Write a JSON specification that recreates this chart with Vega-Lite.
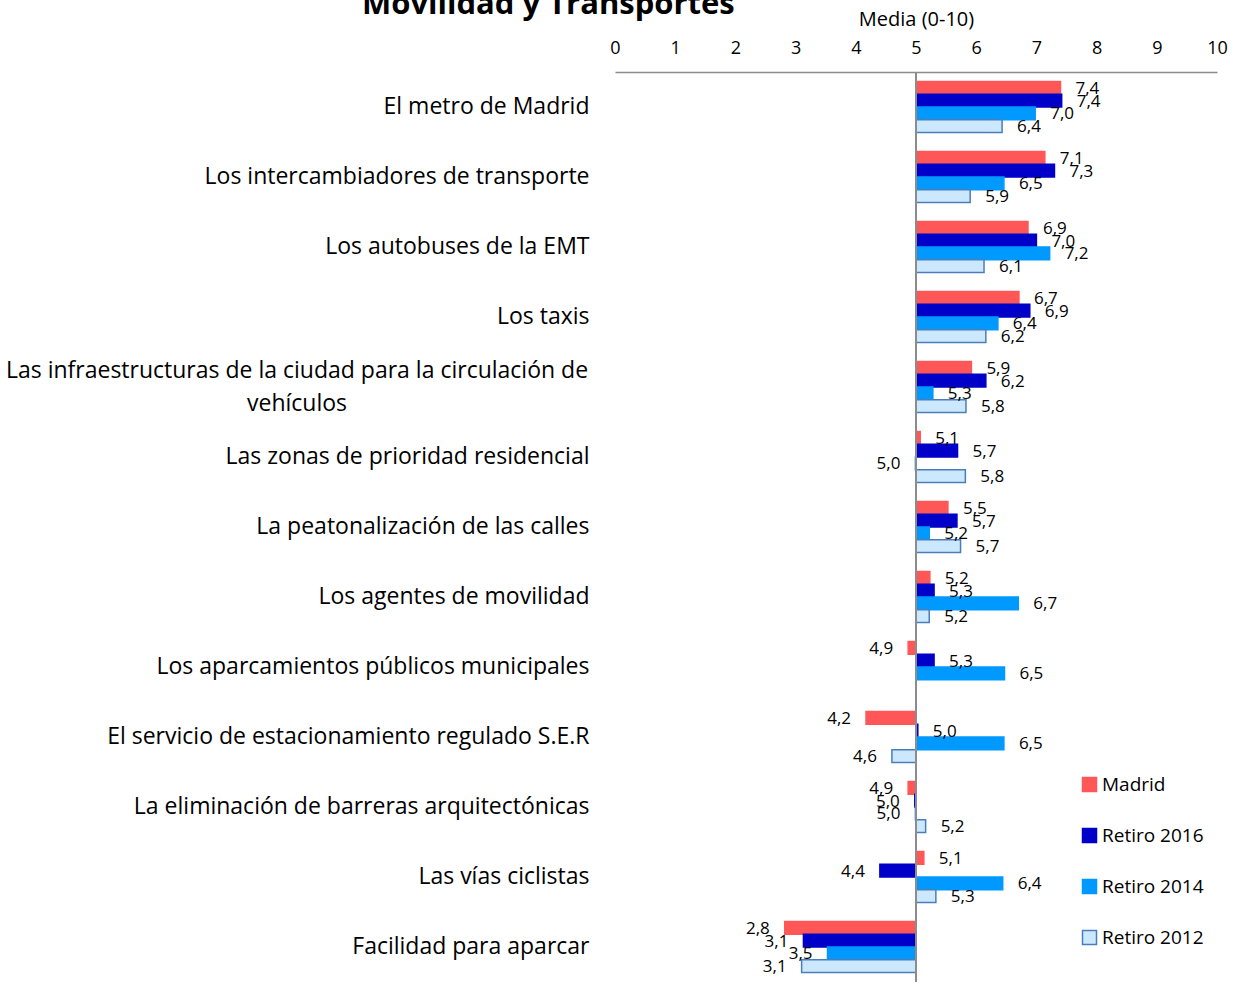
{
  "$schema": "https://vega.github.io/schema/vega-lite/v6.json",
  "autosize": {"type": "none"},
  "padding": {"left": 615, "top": 72, "right": 26, "bottom": 5},
  "width": 602,
  "height": 910,
  "background": "white",
  "config": {
    "view": {"stroke": null},
    "font": "Open Sans",
    "locale": {"number": {"decimal": ",", "thousands": ".", "grouping": [3], "currency": ["", " €"]}}
  },
  "title": {
    "text": "Movilidad y Transportes",
    "fontSize": 31,
    "fontWeight": "bold",
    "font": "Open Sans",
    "anchor": "start",
    "frame": "group",
    "dx": -253,
    "dy": 16,
    "color": "#000000"
  },
  "data": {
    "values": [
      {"cat": "El metro de Madrid", "series": "Madrid", "value": 7.4},
      {"cat": "El metro de Madrid", "series": "Retiro 2016", "value": 7.42},
      {"cat": "El metro de Madrid", "series": "Retiro 2014", "value": 6.98},
      {"cat": "El metro de Madrid", "series": "Retiro 2012", "value": 6.43},
      {"cat": "Los intercambiadores de transporte", "series": "Madrid", "value": 7.14},
      {"cat": "Los intercambiadores de transporte", "series": "Retiro 2016", "value": 7.3},
      {"cat": "Los intercambiadores de transporte", "series": "Retiro 2014", "value": 6.46},
      {"cat": "Los intercambiadores de transporte", "series": "Retiro 2012", "value": 5.9},
      {"cat": "Los autobuses de la EMT", "series": "Madrid", "value": 6.86},
      {"cat": "Los autobuses de la EMT", "series": "Retiro 2016", "value": 7.0},
      {"cat": "Los autobuses de la EMT", "series": "Retiro 2014", "value": 7.22},
      {"cat": "Los autobuses de la EMT", "series": "Retiro 2012", "value": 6.13},
      {"cat": "Los taxis", "series": "Madrid", "value": 6.71},
      {"cat": "Los taxis", "series": "Retiro 2016", "value": 6.89},
      {"cat": "Los taxis", "series": "Retiro 2014", "value": 6.36},
      {"cat": "Los taxis", "series": "Retiro 2012", "value": 6.16},
      {"cat": "Las infraestructuras de la ciudad para la circulación de vehículos", "series": "Madrid", "value": 5.92},
      {"cat": "Las infraestructuras de la ciudad para la circulación de vehículos", "series": "Retiro 2016", "value": 6.16},
      {"cat": "Las infraestructuras de la ciudad para la circulación de vehículos", "series": "Retiro 2014", "value": 5.28},
      {"cat": "Las infraestructuras de la ciudad para la circulación de vehículos", "series": "Retiro 2012", "value": 5.83},
      {"cat": "Las zonas de prioridad residencial", "series": "Madrid", "value": 5.07},
      {"cat": "Las zonas de prioridad residencial", "series": "Retiro 2016", "value": 5.69},
      {"cat": "Las zonas de prioridad residencial", "series": "Retiro 2014", "value": 4.99},
      {"cat": "Las zonas de prioridad residencial", "series": "Retiro 2012", "value": 5.82},
      {"cat": "La peatonalización de las calles", "series": "Madrid", "value": 5.53},
      {"cat": "La peatonalización de las calles", "series": "Retiro 2016", "value": 5.68},
      {"cat": "La peatonalización de las calles", "series": "Retiro 2014", "value": 5.22},
      {"cat": "La peatonalización de las calles", "series": "Retiro 2012", "value": 5.74},
      {"cat": "Los agentes de movilidad", "series": "Madrid", "value": 5.23},
      {"cat": "Los agentes de movilidad", "series": "Retiro 2016", "value": 5.3},
      {"cat": "Los agentes de movilidad", "series": "Retiro 2014", "value": 6.7},
      {"cat": "Los agentes de movilidad", "series": "Retiro 2012", "value": 5.22},
      {"cat": "Los aparcamientos públicos municipales", "series": "Madrid", "value": 4.87},
      {"cat": "Los aparcamientos públicos municipales", "series": "Retiro 2016", "value": 5.3},
      {"cat": "Los aparcamientos públicos municipales", "series": "Retiro 2014", "value": 6.47},
      {"cat": "El servicio de estacionamiento regulado S.E.R", "series": "Madrid", "value": 4.17},
      {"cat": "El servicio de estacionamiento regulado S.E.R", "series": "Retiro 2016", "value": 5.03},
      {"cat": "El servicio de estacionamiento regulado S.E.R", "series": "Retiro 2014", "value": 6.46},
      {"cat": "El servicio de estacionamiento regulado S.E.R", "series": "Retiro 2012", "value": 4.6},
      {"cat": "La eliminación de barreras arquitectónicas", "series": "Madrid", "value": 4.87},
      {"cat": "La eliminación de barreras arquitectónicas", "series": "Retiro 2016", "value": 4.98},
      {"cat": "La eliminación de barreras arquitectónicas", "series": "Retiro 2014", "value": 4.99},
      {"cat": "La eliminación de barreras arquitectónicas", "series": "Retiro 2012", "value": 5.16},
      {"cat": "Las vías ciclistas", "series": "Madrid", "value": 5.13},
      {"cat": "Las vías ciclistas", "series": "Retiro 2016", "value": 4.4},
      {"cat": "Las vías ciclistas", "series": "Retiro 2014", "value": 6.44},
      {"cat": "Las vías ciclistas", "series": "Retiro 2012", "value": 5.33},
      {"cat": "Facilidad para aparcar", "series": "Madrid", "value": 2.82},
      {"cat": "Facilidad para aparcar", "series": "Retiro 2016", "value": 3.13},
      {"cat": "Facilidad para aparcar", "series": "Retiro 2014", "value": 3.53},
      {"cat": "Facilidad para aparcar", "series": "Retiro 2012", "value": 3.1}
    ]
  },
  "layer": [
    {
      "mark": {"type": "bar", "strokeWidth": 1.5},
      "encoding": {
        "y": {
          "field": "cat",
          "type": "nominal",
          "sort": null,
          "scale": {"paddingInner": 0.27, "paddingOuter": 0.135},
          "axis": {
            "title": null,
            "ticks": false,
            "domain": false,
            "labelFont": "Open Sans",
            "labelFontSize": 23,
            "labelColor": "#000000",
            "labelPadding": 26,
            "labelLimit": 700,
            "labelExpr": "datum.value == 'Las infraestructuras de la ciudad para la circulación de vehículos' ? '' : datum.value"
          }
        },
        "yOffset": {
          "field": "series",
          "type": "nominal",
          "sort": ["Madrid", "Retiro 2016", "Retiro 2014", "Retiro 2012"],
          "scale": {"paddingInner": 0, "paddingOuter": 0}
        },
        "x": {
          "field": "value",
          "type": "quantitative",
          "scale": {"domain": [0, 10], "nice": false, "zero": false},
          "axis": {
            "orient": "top",
            "title": "Media (0-10)",
            "titleFont": "Open Sans",
            "titleFontSize": 20,
            "titleFontWeight": "normal",
            "titleColor": "#000000",
            "titlePadding": 10,
            "values": [0, 1, 2, 3, 4, 5, 6, 7, 8, 9, 10],
            "format": "d",
            "grid": false,
            "ticks": false,
            "tickSize": 0,
            "labelFlush": false,
            "labelPadding": 15,
            "labelFont": "Open Sans",
            "labelFontSize": 18,
            "labelColor": "#000000",
            "domainColor": "#8c8c8c",
            "domainWidth": 1.5
          }
        },
        "x2": {"datum": 5},
        "fill": {
          "field": "series",
          "type": "nominal",
          "scale": {
            "domain": ["Madrid", "Retiro 2016", "Retiro 2014", "Retiro 2012"],
            "range": ["#FF5757", "#0000C8", "#0099FF", "#CCE8FF"]
          },
          "legend": {
            "title": null,
            "orient": "none",
            "legendX": 465,
            "legendY": 703,
            "symbolType": "square",
            "symbolSize": 196,
            "symbolStrokeWidth": 1.5,
            "labelFont": "Open Sans",
            "labelFontSize": 19,
            "labelColor": "#000000",
            "labelOffset": 3,
            "rowPadding": 30
          }
        },
        "stroke": {
          "field": "series",
          "type": "nominal",
          "scale": {
            "domain": ["Madrid", "Retiro 2016", "Retiro 2014", "Retiro 2012"],
            "range": ["#FF5757", "#0000C8", "#0099FF", "#4A7EBB"]
          },
          "legend": {
            "title": null,
            "orient": "none",
            "legendX": 465,
            "legendY": 703,
            "symbolType": "square",
            "symbolSize": 196,
            "symbolStrokeWidth": 1.5,
            "labelFont": "Open Sans",
            "labelFontSize": 19,
            "labelColor": "#000000",
            "labelOffset": 3,
            "rowPadding": 30
          }
        }
      }
    },
    {
      "transform": [{"filter": "datum.cat == 'Las infraestructuras de la ciudad para la circulación de vehículos' && datum.series == 'Madrid'"}],
      "mark": {"type": "text", "align": "center", "baseline": "middle", "dx": -318, "dy": -16.5, "lineHeight": 33, "fontSize": 23, "font": "Open Sans", "color": "#000000"},
      "encoding": {
        "y": {"field": "cat", "type": "nominal", "sort": null},
        "x": {"datum": 0},
        "text": {"value": ["Las infraestructuras de la ciudad para la circulación de", "vehículos"]}
      }
    },
    {
      "transform": [{"filter": "datum.value >= 5"}],
      "mark": {"type": "text", "align": "left", "baseline": "middle", "dx": 15, "dy": 1, "fontSize": 17, "font": "Open Sans", "color": "#000000"},
      "encoding": {
        "y": {"field": "cat", "type": "nominal", "sort": null},
        "yOffset": {"field": "series", "type": "nominal", "sort": ["Madrid", "Retiro 2016", "Retiro 2014", "Retiro 2012"]},
        "x": {"field": "value", "type": "quantitative"},
        "text": {"field": "value", "type": "quantitative", "format": ".1f"}
      }
    },
    {
      "transform": [{"filter": "datum.value < 5"}],
      "mark": {"type": "text", "align": "right", "baseline": "middle", "dx": -15, "dy": 1, "fontSize": 17, "font": "Open Sans", "color": "#000000"},
      "encoding": {
        "y": {"field": "cat", "type": "nominal", "sort": null},
        "yOffset": {"field": "series", "type": "nominal", "sort": ["Madrid", "Retiro 2016", "Retiro 2014", "Retiro 2012"]},
        "x": {"field": "value", "type": "quantitative"},
        "text": {"field": "value", "type": "quantitative", "format": ".1f"}
      }
    },
    {
      "mark": {"type": "rule", "color": "#8c8c8c", "strokeWidth": 1.5},
      "encoding": {"x": {"datum": 5}}
    }
  ]
}
